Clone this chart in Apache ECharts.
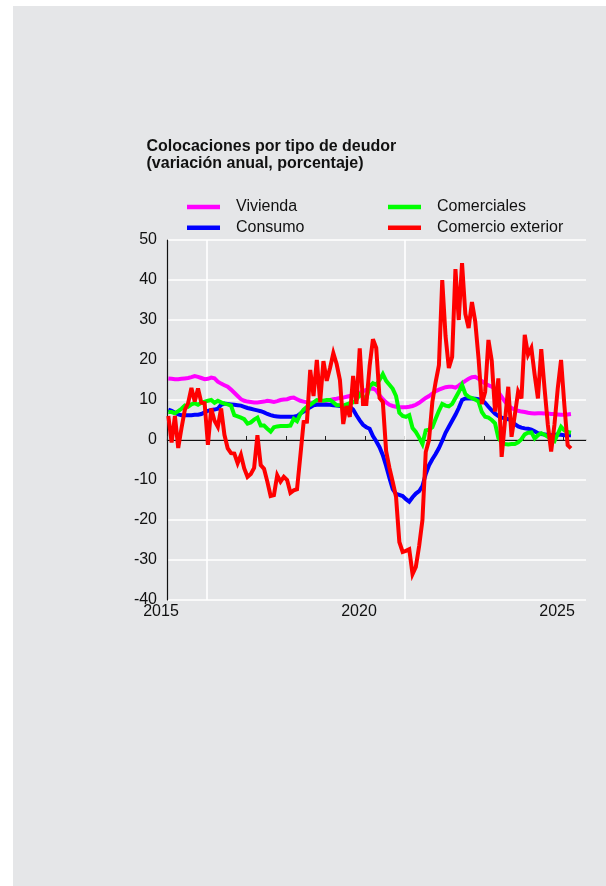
<!DOCTYPE html>
<html><head><meta charset="utf-8">
<script src="https://cdn.jsdelivr.net/npm/echarts/dist/echarts.min.js"></script>
<style>
html,body{margin:0;padding:0;background:#ffffff;overflow:hidden;}
#bg{position:absolute;left:13px;top:6px;width:593px;height:880px;background:#e5e6e8;}
#chart{position:absolute;left:0;top:0;width:606px;height:886px;}
</style></head><body>
<div id="bg"></div><div id="chart"></div>
<script>
// Monthly data, January 2015 to March 2025
const startYear = 2015;
const seriesNames = ['Vivienda', 'Consumo', 'Comerciales', 'Comercio exterior'];
const vivienda = [
 15.4,15.3,15.2,15.2,15.3,15.4,15.5,15.7,16.0,15.8,15.5,15.2,
 15.3,15.6,15.4,14.6,14.1,13.7,13.3,12.6,11.8,11.0,10.2,9.8,
 9.6,9.5,9.4,9.4,9.5,9.6,9.8,9.7,9.5,9.7,10.0,10.1,
 10.2,10.5,10.6,10.2,9.8,9.6,9.4,9.3,9.3,9.4,9.5,9.6,
 9.8,10.0,10.2,10.3,10.5,10.6,10.8,11.0,11.2,11.5,11.8,12.2,
 12.5,12.8,12.9,12.4,11.2,10.2,9.4,8.8,8.5,8.3,8.2,8.2,
 8.2,8.3,8.5,8.8,9.3,9.9,10.5,11.0,11.6,12.2,12.6,12.9,
 13.2,13.3,13.3,13.1,13.6,14.2,14.8,15.3,15.7,15.8,15.3,14.7,
 14.1,13.7,13.3,12.8,12.0,10.8,9.6,8.6,8.0,7.6,7.3,7.1,
 7.0,6.8,6.7,6.6,6.7,6.7,6.6,6.6,6.5,6.5,6.4,6.3,
 6.3,6.4,6.5
];
const consumo = [
 7.6,7.3,6.8,6.4,6.2,6.2,6.2,6.2,6.3,6.3,6.5,6.9,
 7.3,7.5,7.6,7.8,8.8,9.1,9.0,8.9,8.8,8.7,8.6,8.3,
 8.0,7.8,7.6,7.4,7.2,6.9,6.5,6.2,6.0,5.9,5.8,5.8,
 5.8,5.8,5.8,6.0,6.6,7.1,7.6,8.2,8.7,8.8,8.8,8.8,
 8.8,8.8,8.7,8.6,8.5,8.4,8.3,8.3,7.6,6.2,4.9,3.8,
 3.2,2.8,1.0,-0.3,-1.8,-3.8,-6.5,-9.5,-12.3,-13.5,-13.7,-14.0,
 -14.8,-15.4,-14.3,-13.4,-12.8,-11.5,-8.5,-6.3,-4.8,-3.5,-2.0,-0.2,
 1.8,3.3,4.8,6.3,8.0,10.0,10.4,10.4,10.4,10.3,10.2,10.0,
 9.3,8.3,7.4,6.6,6.0,5.6,5.4,5.2,4.9,4.0,3.4,3.1,
 2.9,2.8,2.6,2.2,1.7,1.5,1.4,1.3,1.2,1.3,1.4,1.3,
 1.2,1.2,1.2
];
const comerciales = [
 7.0,7.0,6.7,7.2,7.8,8.6,8.3,8.9,9.2,8.8,9.3,9.6,
 9.8,10.0,9.3,9.8,9.4,9.1,8.9,8.6,6.2,5.9,5.6,5.2,
 4.1,4.4,5.1,5.6,3.6,3.6,2.8,2.1,3.2,3.4,3.5,3.5,
 3.5,3.6,5.3,4.7,6.5,7.6,8.3,8.8,9.4,10.0,9.9,9.8,
 10.0,10.0,9.4,8.7,8.7,8.6,8.9,9.2,9.4,10.0,11.4,10.8,
 10.4,13.4,14.2,13.8,15.0,16.5,14.8,13.8,12.8,11.0,6.8,6.0,
 5.8,6.2,3.0,2.0,0.6,-1.0,2.4,2.6,3.2,5.3,7.3,9.0,
 8.6,8.4,9.0,10.5,12.0,13.8,11.5,10.8,10.5,10.1,9.6,7.0,
 5.8,5.6,5.0,4.2,0.5,-0.6,-1.0,-1.1,-1.0,-1.0,-0.6,0.2,
 1.4,1.8,1.9,0.4,1.2,1.7,1.3,0.8,0.2,-0.3,1.5,3.3,
 2.4,2.0,1.8
];
const comercioExterior = [
 6.0,-0.6,6.0,-2.0,3.0,7.5,9.2,13.0,9.6,12.9,9.3,9.2,
 -1.2,7.9,4.8,3.3,7.9,1.3,-2.1,-3.3,-3.4,-5.8,-3.7,-7.1,
 -9.2,-8.5,-7.0,1.2,-6.3,-7.2,-10.4,-14.0,-13.8,-8.8,-10.4,-9.2,
 -10.0,-13.2,-12.6,-12.3,-4.0,4.5,4.6,17.5,11.0,20.0,9.5,19.7,
 14.8,18.0,21.7,19.0,15.0,4.0,8.5,5.8,16.0,9.0,22.9,9.0,
 9.0,18.5,25.2,23.0,10.5,9.5,-2.8,-7.0,-10.5,-14.2,-25.5,-28.0,
 -27.7,-27.3,-33.5,-31.7,-26.5,-20.0,-3.0,0.0,9.5,14.5,18.7,40.0,
 26.0,18.0,20.8,42.7,30.0,44.2,31.5,28.0,34.5,29.6,20.4,9.0,
 12.0,25.0,19.8,7.1,15.4,-4.2,4.6,13.3,0.8,6.3,12.1,10.4,
 26.3,21.3,23.0,16.3,10.4,22.7,12.9,3.8,-2.9,3.8,12.9,20.0,
 8.8,-1.3,-2.1
];
const seriesColors = ['#ff00ff', '#0000ff', '#00ff00', '#ff0000'];
const yMin = -40, yMax = 50, yStep = 10;
const vGridYears = [2016, 2021];

function toPoints(arr) {
  return arr.map((v, i) => [startYear + (i + 0.4) / 12, v]);
}

const chart = echarts.init(document.getElementById('chart'), null, {renderer: 'canvas'});
const FONT = '"Liberation Sans", Arial, Helvetica, sans-serif';

const dataSeries = [vivienda, consumo, comerciales, comercioExterior].map((arr, k) => ({
  name: seriesNames[k],
  type: 'line',
  data: toPoints(arr),
  showSymbol: false,
  symbol: 'none',
  lineStyle: {color: seriesColors[k], width: 4, join: 'miter', miterLimit: 4},
  itemStyle: {color: seriesColors[k]},
  z: 3 + k,
  animation: false
}));

const legendText = {fontSize: 16, color: '#111', lineHeight: 16, padding: [0, 0, 0, 11], fontFamily: FONT};

chart.setOption({
  animation: false,
  backgroundColor: 'transparent',
  textStyle: {fontFamily: FONT},
  title: {
    text: 'Colocaciones por tipo de deudor\n(variación anual, porcentaje)',
    left: 146.5,
    top: 138.5,
    padding: 0,
    textStyle: {fontSize: 16, fontWeight: 'bold', color: '#111', lineHeight: 17, fontFamily: FONT}
  },
  legend: [
    {
      data: ['Vivienda', 'Consumo'],
      orient: 'vertical', left: 187, top: 199, padding: 0,
      icon: 'rect', itemWidth: 33, itemHeight: 4.5, itemGap: 4.7,
      textStyle: legendText,
      selectedMode: false
    },
    {
      data: ['Comerciales', 'Comercio exterior'],
      orient: 'vertical', left: 388, top: 199, padding: 0,
      icon: 'rect', itemWidth: 33, itemHeight: 4.5, itemGap: 4.7,
      textStyle: legendText,
      selectedMode: false
    }
  ],
  grid: {left: 167, top: 240, right: 20, bottom: 286, containLabel: false},
  xAxis: {
    type: 'value', min: 2015, max: 2025.58, interval: 1,
    axisLine: {show: true, lineStyle: {color: '#a9a9ab', width: 1.5}},
    axisTick: {show: true, inside: true, length: 4, lineStyle: {color: '#222', width: 1}},
    axisLabel: {
      fontSize: 16, color: '#111', margin: 4, padding: [0, 12, 0, 0],
      showMaxLabel: false,
      formatter: v => (Math.abs(v % 5) < 1e-6 ? String(Math.round(v)) : '')
    },
    splitLine: {show: false}
  },
  yAxis: {
    type: 'value', min: yMin, max: yMax, interval: yStep,
    axisLine: {show: true, lineStyle: {color: '#111', width: 1.2}},
    axisTick: {show: false},
    axisLabel: {fontSize: 16, color: '#111', margin: 10},
    splitLine: {show: true, lineStyle: {color: '#ffffff', width: 1.6}}
  },
  series: [
    {
      name: '_grid', type: 'line', data: [], silent: true, z: 1,
      markLine: {
        silent: true, symbol: 'none', animation: false, z: 1,
        label: {show: false},
        data: vGridYears.map(y => ({xAxis: y, lineStyle: {color: '#ffffff', width: 1.6, type: 'solid'}}))
          .concat([{yAxis: 0, lineStyle: {color: '#111', width: 1.2, type: 'solid'}}])
      }
    }
  ].concat(dataSeries)
});
</script>
</body></html>
